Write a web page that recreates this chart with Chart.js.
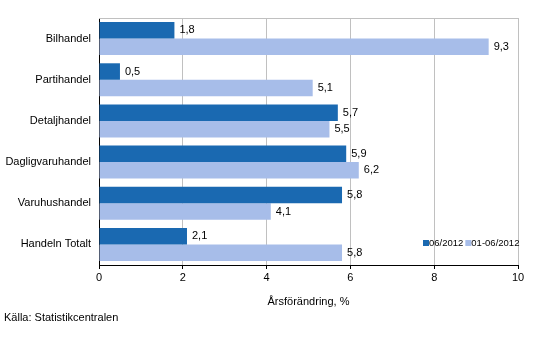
<!DOCTYPE html>
<html>
<head>
<meta charset="utf-8">
<script src="https://cdn.jsdelivr.net/npm/chart.js@4.4.0/dist/chart.umd.min.js"></script>
<style>
    body { margin: 0; background: #fff; }
    #wrap { width: 533px; height: 359px; position: relative; }
</style>
</head>
<body>
<div id="wrap"><canvas id="barChart"></canvas></div>
<script>
const categories = ['Bilhandel', 'Partihandel', 'Detaljhandel', 'Dagligvaruhandel', 'Varuhushandel', 'Handeln Totalt'];
const monthValues = [1.8, 0.5, 5.7, 5.9, 5.8, 2.1];
const periodValues = [9.3, 5.1, 5.5, 6.2, 4.1, 5.8];
const seriesLabels = ['06/2012', '01-06/2012'];
const xTicks = [0, 2, 4, 6, 8, 10];

const darkBlue = '#1a69b1';
const lightBlue = '#a7bde9';
const font = 'Liberation Sans';

// grey frame at the top of the plot
const framePlugin = {
    id: 'frame',
    beforeDatasetsDraw(chart) {
        const { ctx, chartArea } = chart;
        ctx.save();
        ctx.strokeStyle = '#c0c0c0';
        ctx.lineWidth = 1;
        ctx.beginPath();
        ctx.moveTo(chartArea.left, chartArea.top + 0.5);
        ctx.lineTo(chartArea.right, chartArea.top + 0.5);
        ctx.stroke();
        ctx.restore();
    }
};

// value labels, legend and source note
const labelPlugin = {
    id: 'labels',
    afterDatasetsDraw(chart) {
        const ctx = chart.ctx;
        ctx.save();
        ctx.fillStyle = '#000';
        ctx.font = '11px ' + font;
        ctx.textBaseline = 'middle';
        ctx.textAlign = 'left';
        chart.data.datasets.forEach((dataset, i) => {
            const meta = chart.getDatasetMeta(i);
            meta.data.forEach((bar, index) => {
                const txt = String(dataset.data[index]).replace('.', ',');
                ctx.fillText(txt, bar.x + 5, bar.y);
            });
        });

        // legend inside plot, bottom right
        ctx.font = '9.5px ' + font;
        let lx = 423;
        const ly = 243;
        chart.data.datasets.forEach(dataset => {
            ctx.fillStyle = dataset.backgroundColor;
            ctx.fillRect(lx, ly - 3, 6, 6);
            ctx.fillStyle = '#000';
            ctx.fillText(dataset.label, lx + 6, ly);
            lx += 6 + ctx.measureText(dataset.label).width + 2;
        });

        ctx.font = '11px ' + font;
        ctx.fillText('Källa: Statistikcentralen', 4, 318);
        ctx.restore();
    }
};

const ctx = document.getElementById('barChart').getContext('2d');
const barChart = new Chart(ctx, {
    type: 'bar',
    data: {
        labels: categories,
        datasets: [{
            label: seriesLabels[0],
            data: monthValues,
            backgroundColor: darkBlue,
            categoryPercentage: 0.8,
            barPercentage: 1.0
        }, {
            label: seriesLabels[1],
            data: periodValues,
            backgroundColor: lightBlue,
            categoryPercentage: 0.8,
            barPercentage: 1.0
        }]
    },
    options: {
        indexAxis: 'y',
        responsive: true,
        maintainAspectRatio: false,
        animation: false,
        layout: { padding: { top: 18, right: 15, bottom: 50, left: 0 } },
        scales: {
            x: {
                min: 0,
                max: 10,
                afterBuildTicks: scale => { scale.ticks = xTicks.map(v => ({ value: v })); },
                afterFit: scale => { scale.height = 44; },
                grid: { color: '#c0c0c0', tickColor: '#000', tickLength: 4 },
                border: { color: '#000' },
                ticks: { color: '#000', font: { family: font, size: 11 }, padding: 2, maxRotation: 0 },
                title: {
                    display: true,
                    text: 'Årsförändring, %',
                    color: '#000',
                    font: { family: font, size: 11 },
                    padding: { top: 12, bottom: 0 }
                }
            },
            y: {
                afterFit: scale => { scale.width = 99; },
                grid: { display: false, drawTicks: false },
                border: { color: '#000' },
                ticks: { color: '#000', font: { family: font, size: 11 }, padding: 8 }
            }
        },
        plugins: {
            legend: { display: false },
            tooltip: { enabled: false }
        }
    },
    plugins: [framePlugin, labelPlugin]
});
</script>
</body>
</html>
